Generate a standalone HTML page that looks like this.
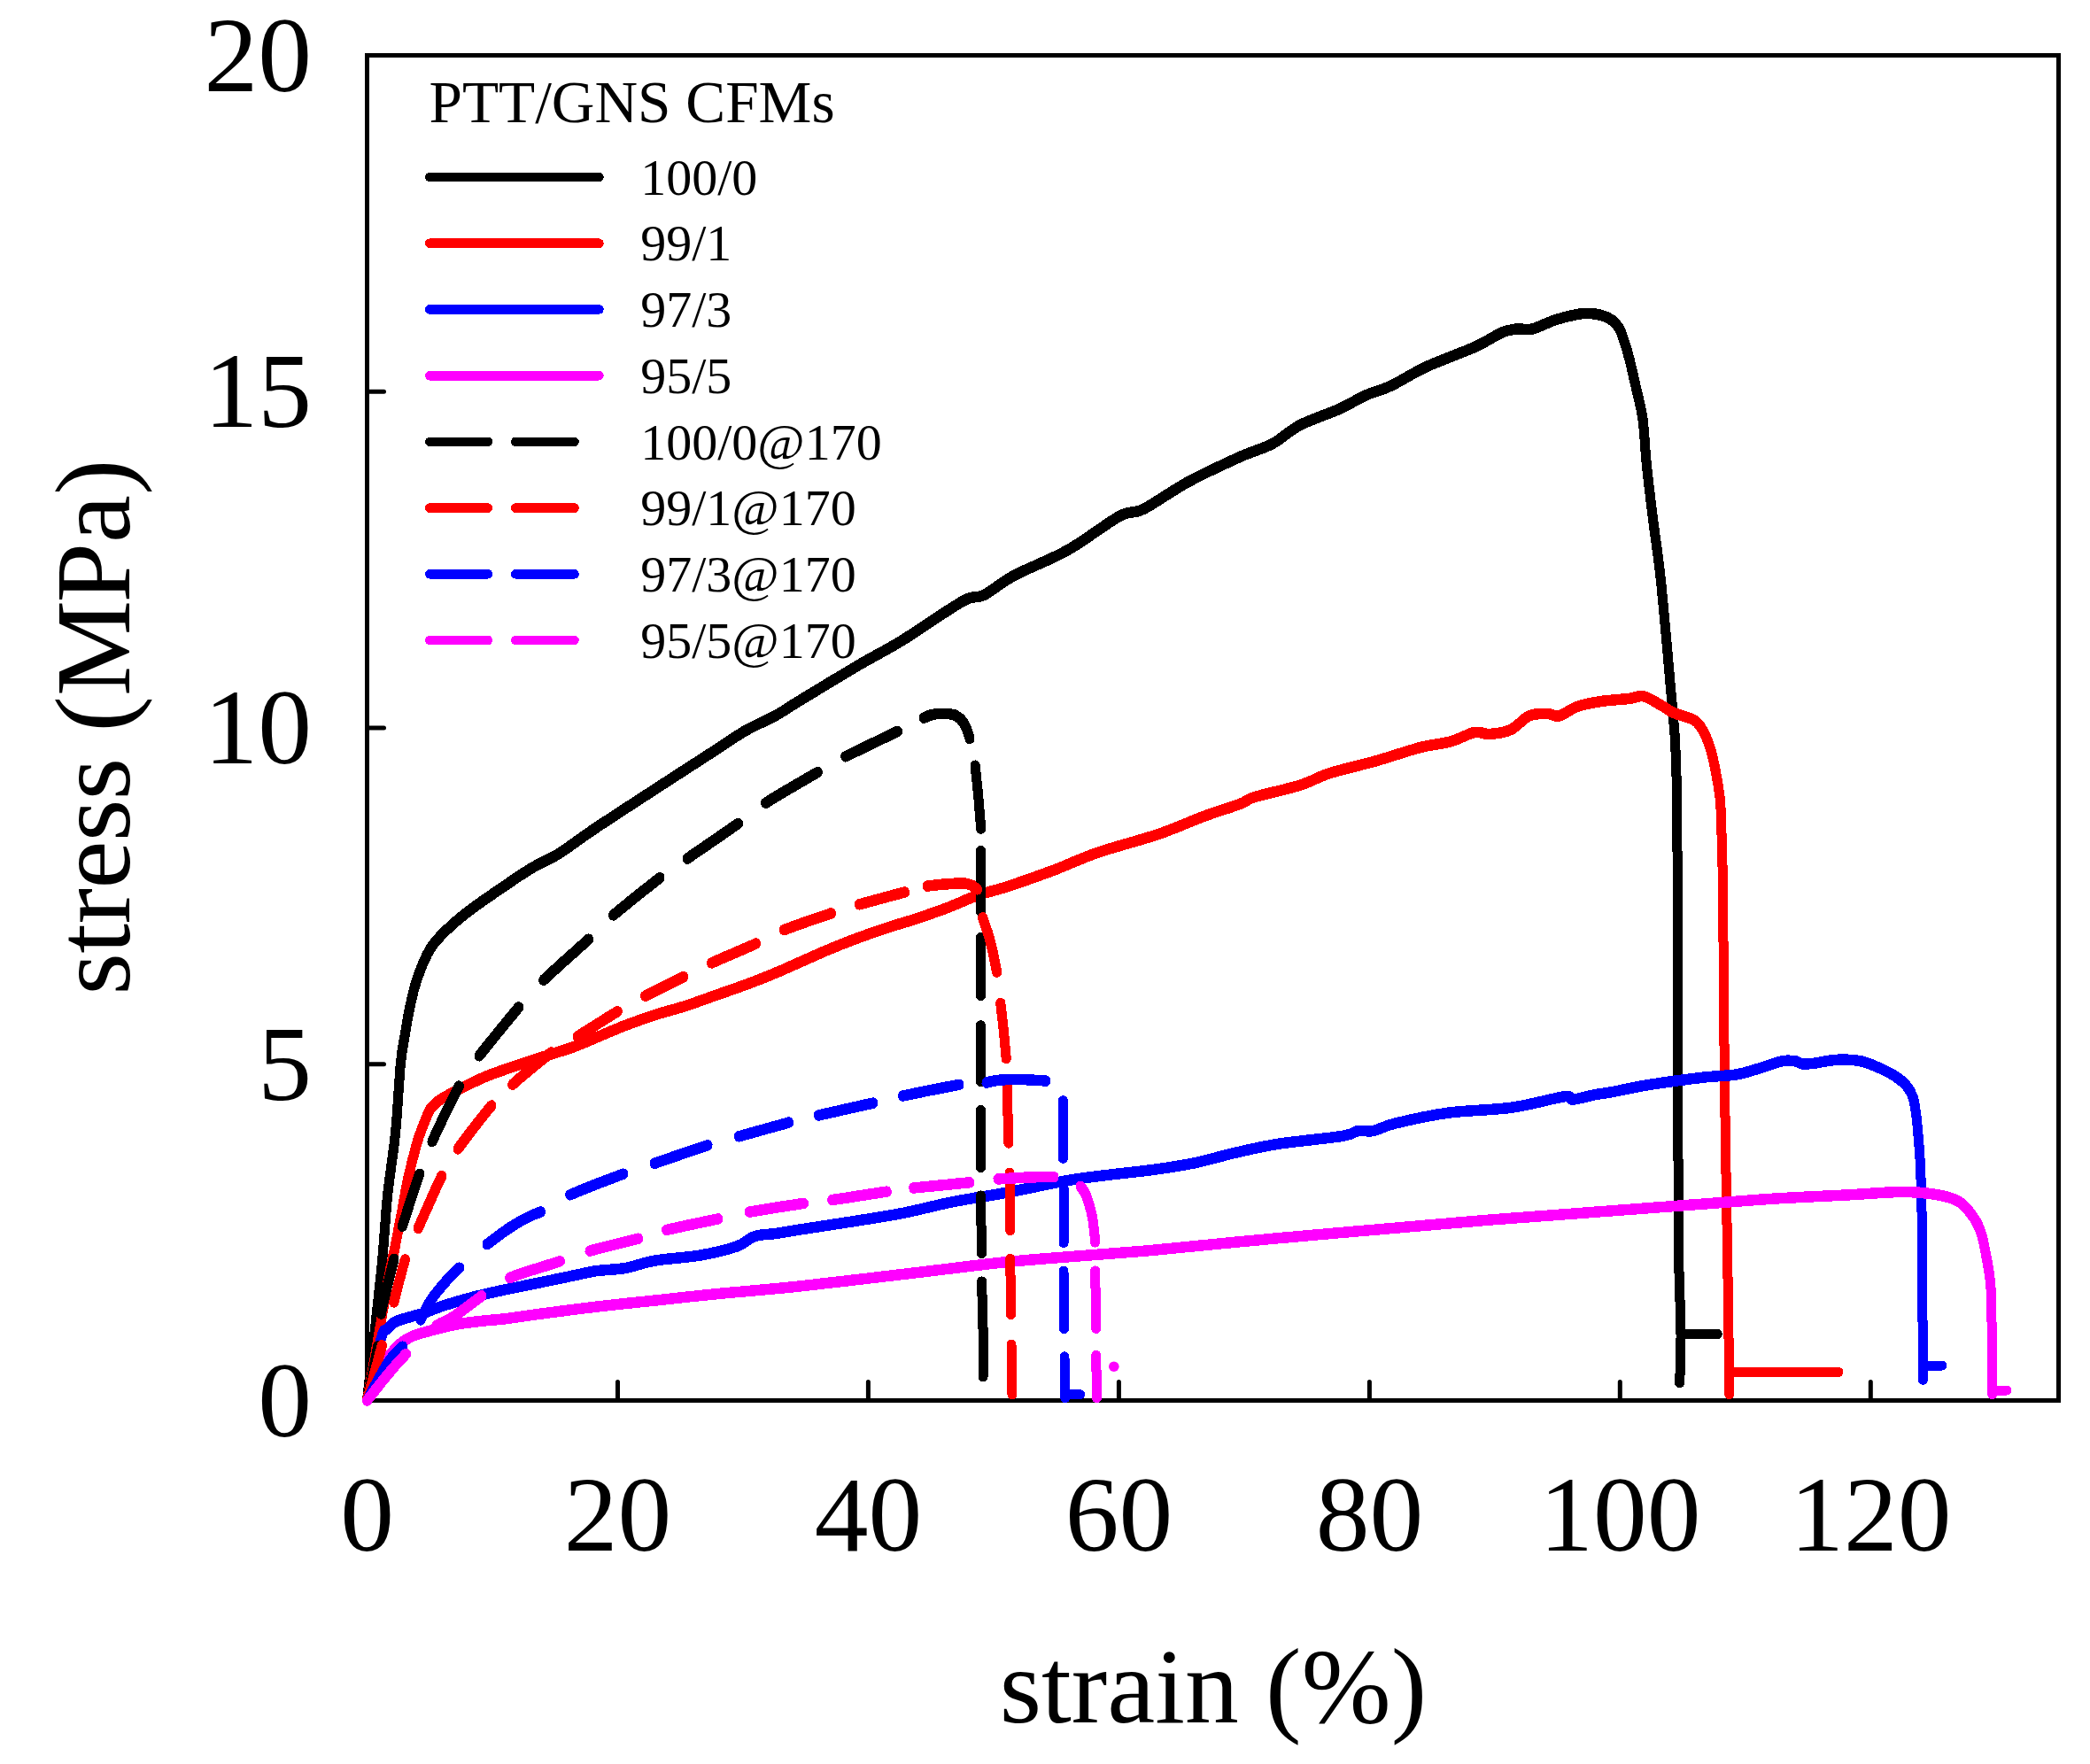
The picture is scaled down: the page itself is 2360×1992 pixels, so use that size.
<!DOCTYPE html>
<html lang="en"><head><meta charset="utf-8"><title>stress-strain curves of PTT/GNS CFMs</title>
<style>
html,body{margin:0;padding:0;background:#fff;}
body{width:2360px;height:1992px;overflow:hidden;}
svg{display:block;}
text{font-family:"Liberation Serif", serif;fill:#000;}
.tk{font-size:121.5px;}
.ax{font-size:121.5px;}
.lt{font-size:67.3px;}
.ll{font-size:58px;}
.c{fill:none;stroke-width:11;stroke-linecap:round;stroke-linejoin:round;shape-rendering:crispEdges;}
.k{stroke:#000;}.r{stroke:#f00;}.b{stroke:#00f;}.m{stroke:#f0f;}
.lg{stroke-width:10.6;}
</style></head><body>
<svg width="2360" height="1992" viewBox="0 0 2360 1992" role="img" aria-label="stress-strain curves">
<rect x="0" y="0" width="2360" height="1992" fill="#fff"/>
<g id="axes" fill="none" stroke="#000" stroke-width="5">
<rect x="414.5" y="62.5" width="1910" height="1519"/>
<path d="M697.5 1581.5V1560.5M980.4 1581.5V1560.5M1263.4 1581.5V1560.5M1546.4 1581.5V1560.5M1829.3 1581.5V1560.5M2112.3 1581.5V1560.5M414.5 1201.8H433.5M414.5 822H433.5M414.5 442.2H433.5" stroke-linecap="round"/>
</g>
<g id="curves">
<path class="c k" transform="translate(0 -0.75)" d="M414.5 1581.5C417.2 1557.1 426.6 1473.6 430.5 1435C434.4 1396.4 434.9 1375.8 437.6 1350C440.3 1324.2 444 1304.8 446.5 1280C449 1255.2 450.6 1219.5 452.4 1201C454.2 1182.5 455.6 1178.7 457.2 1168.8C458.8 1158.9 460.2 1150.4 462 1141.6C463.8 1132.8 465.7 1123.7 467.8 1116C469.9 1108.3 472.1 1102.1 474.6 1095.6C477.1 1089.1 480.1 1082.1 482.7 1077C485.3 1071.9 487.3 1069 490.4 1065C493.5 1061 497.3 1057.1 501.4 1053C505.5 1048.9 509.9 1044.8 515 1040.4C520.1 1036 523.5 1033 532 1026.8C540.5 1020.6 554.7 1010.7 566 1003C577.3 995.3 589.2 987 600 980.5C610.8 974 619 971.5 631 964C643 956.5 653.8 947.7 672 935.5C690.2 923.3 717.3 905.8 740 891C762.7 876.2 791 858 808 847C825 836 830.7 831.5 842 825C853.3 818.5 866.3 813.3 876 808C885.7 802.7 884.7 802.3 900 793C915.3 783.7 948.2 763.7 968 752C987.8 740.3 999.2 735.2 1019 723C1038.8 710.8 1071.7 687.5 1087 679C1102.3 670.5 1101.3 676.8 1111 672C1120.7 667.2 1129.2 658.5 1145 650C1160.8 641.5 1186.2 632.2 1206 621C1225.8 609.8 1249.8 590.7 1264 583C1278.2 575.3 1278 581.5 1291 575C1304 568.5 1323.8 553.8 1342 544C1360.2 534.2 1384.2 523.2 1400 516C1415.8 508.8 1425.7 507 1437 501C1448.3 495 1455.5 486.5 1468 480C1480.5 473.5 1499.5 467.7 1512 462C1524.5 456.3 1533.3 450.3 1543 446C1552.7 441.7 1558.7 441.3 1570 436C1581.3 430.7 1595.2 421.3 1611 414C1626.8 406.7 1650.8 398.4 1665 392C1679.2 385.6 1688 378.9 1696 375.5C1704 372.1 1707.3 372.2 1713 371.5C1718.7 370.8 1722.7 373.2 1730 371.5C1737.3 369.8 1748 363.8 1757 361C1766 358.2 1776.7 355.6 1784 354.5C1791.3 353.4 1795.8 353.8 1801 354.5C1806.2 355.2 1811 356.6 1815 358.5C1819 360.4 1822.3 363 1825 366C1827.7 369 1828.7 370.5 1831 376.5C1833.3 382.5 1836.3 392.1 1839 402C1841.7 411.9 1844.3 424.1 1847 436C1849.7 447.9 1853 459.3 1855 473.5C1857 487.7 1857.2 502.9 1859 521C1860.8 539.1 1863.4 561 1866 582C1868.6 603 1872 624.8 1874.5 647C1877 669.2 1878.9 692.3 1881 715C1883.1 737.7 1885.2 762.7 1887 783C1888.8 803.3 1890.4 817.5 1891.5 837C1892.6 856.5 1893 865.7 1893.5 900C1894 934.3 1894.5 985.2 1894.7 1043C1894.9 1100.8 1894.6 1185.8 1894.7 1247C1894.8 1308.2 1895 1366.8 1895.5 1410C1896 1453.2 1897.8 1480.8 1898 1506C1898.2 1531.2 1896.9 1551.8 1896.7 1561"/>
<path class="c k" transform="translate(0 0.75)" d="M414.5 1581.5C417.2 1557.1 426.6 1473.6 430.5 1435C434.4 1396.4 434.9 1375.8 437.6 1350C440.3 1324.2 444 1304.8 446.5 1280C449 1255.2 450.6 1219.5 452.4 1201C454.2 1182.5 455.6 1178.7 457.2 1168.8C458.8 1158.9 460.2 1150.4 462 1141.6C463.8 1132.8 465.7 1123.7 467.8 1116C469.9 1108.3 472.1 1102.1 474.6 1095.6C477.1 1089.1 480.1 1082.1 482.7 1077C485.3 1071.9 487.3 1069 490.4 1065C493.5 1061 497.3 1057.1 501.4 1053C505.5 1048.9 509.9 1044.8 515 1040.4C520.1 1036 523.5 1033 532 1026.8C540.5 1020.6 554.7 1010.7 566 1003C577.3 995.3 589.2 987 600 980.5C610.8 974 619 971.5 631 964C643 956.5 653.8 947.7 672 935.5C690.2 923.3 717.3 905.8 740 891C762.7 876.2 791 858 808 847C825 836 830.7 831.5 842 825C853.3 818.5 866.3 813.3 876 808C885.7 802.7 884.7 802.3 900 793C915.3 783.7 948.2 763.7 968 752C987.8 740.3 999.2 735.2 1019 723C1038.8 710.8 1071.7 687.5 1087 679C1102.3 670.5 1101.3 676.8 1111 672C1120.7 667.2 1129.2 658.5 1145 650C1160.8 641.5 1186.2 632.2 1206 621C1225.8 609.8 1249.8 590.7 1264 583C1278.2 575.3 1278 581.5 1291 575C1304 568.5 1323.8 553.8 1342 544C1360.2 534.2 1384.2 523.2 1400 516C1415.8 508.8 1425.7 507 1437 501C1448.3 495 1455.5 486.5 1468 480C1480.5 473.5 1499.5 467.7 1512 462C1524.5 456.3 1533.3 450.3 1543 446C1552.7 441.7 1558.7 441.3 1570 436C1581.3 430.7 1595.2 421.3 1611 414C1626.8 406.7 1650.8 398.4 1665 392C1679.2 385.6 1688 378.9 1696 375.5C1704 372.1 1707.3 372.2 1713 371.5C1718.7 370.8 1722.7 373.2 1730 371.5C1737.3 369.8 1748 363.8 1757 361C1766 358.2 1776.7 355.6 1784 354.5C1791.3 353.4 1795.8 353.8 1801 354.5C1806.2 355.2 1811 356.6 1815 358.5C1819 360.4 1822.3 363 1825 366C1827.7 369 1828.7 370.5 1831 376.5C1833.3 382.5 1836.3 392.1 1839 402C1841.7 411.9 1844.3 424.1 1847 436C1849.7 447.9 1853 459.3 1855 473.5C1857 487.7 1857.2 502.9 1859 521C1860.8 539.1 1863.4 561 1866 582C1868.6 603 1872 624.8 1874.5 647C1877 669.2 1878.9 692.3 1881 715C1883.1 737.7 1885.2 762.7 1887 783C1888.8 803.3 1890.4 817.5 1891.5 837C1892.6 856.5 1893 865.7 1893.5 900C1894 934.3 1894.5 985.2 1894.7 1043C1894.9 1100.8 1894.6 1185.8 1894.7 1247C1894.8 1308.2 1895 1366.8 1895.5 1410C1896 1453.2 1897.8 1480.8 1898 1506C1898.2 1531.2 1896.9 1551.8 1896.7 1561"/>
<path class="c k" d="M1901 1506.5L1939.3 1506.5"/>
<path class="c r" transform="translate(0 -0.75)" d="M414.5 1581.5C416.3 1571.2 421.4 1543.2 425.5 1520C429.6 1496.8 435.6 1460.3 439 1442C442.4 1423.7 443.4 1421.5 445.7 1410C448 1398.5 450.4 1385.9 452.9 1372.9C455.4 1359.9 457.5 1345.6 460.5 1332C463.5 1318.4 467.8 1301.4 470.7 1291.2C473.6 1281 475.3 1277.3 477.9 1270.8C480.4 1264.3 482.9 1257.2 486 1252.4C489.1 1247.6 492.4 1245.4 496.7 1242.2C501 1239 507.2 1236.1 512 1233.5C516.8 1230.9 519 1229.6 525.2 1226.6C531.4 1223.6 540.8 1218.9 549 1215.5C557.2 1212.1 566.1 1209.2 574.6 1206.2C583.1 1203.2 591.5 1200.5 600 1197.7C608.5 1194.9 617.1 1192.3 625.6 1189.5C634.1 1186.7 641.9 1184.5 651 1181C660.1 1177.5 670.8 1172.6 680 1168.8C689.2 1165 696 1161.8 706 1158C716 1154.2 728.7 1149.7 740 1146C751.3 1142.3 762.7 1139.7 774 1136C785.3 1132.3 796.7 1128 808 1124C819.3 1120 830.7 1116.2 842 1112C853.3 1107.8 866.3 1102.6 876 1098.6C885.7 1094.6 890.3 1092.3 900 1088C909.7 1083.7 922.7 1077.8 934 1073C945.3 1068.2 956.7 1063.7 968 1059.5C979.3 1055.3 990.7 1051.3 1002 1047.6C1013.3 1043.8 1024.7 1040.8 1036 1037C1047.3 1033.2 1058.7 1029.3 1070 1025C1081.3 1020.7 1092.7 1015 1104 1011C1115.3 1007 1123.8 1005.7 1138 1001C1152.2 996.3 1172 989.4 1189 983C1206 976.6 1220.2 969.4 1240 962.6C1259.8 955.8 1288.2 948.8 1308 942C1327.8 935.2 1343.7 927.7 1359 922C1374.3 916.3 1390.3 911.7 1400 908C1409.7 904.3 1405.7 903.5 1417 900C1428.3 896.5 1453.8 891.2 1468 886.7C1482.2 882.2 1487.8 877.5 1502 873C1516.2 868.5 1536 864.3 1553 859.5C1570 854.7 1589.8 847.7 1604 844C1618.2 840.3 1627.8 840.2 1638 837.4C1648.2 834.6 1657.7 828.4 1665 827C1672.3 825.6 1675.2 829.5 1682 829C1688.8 828.5 1698.6 827.4 1706 824C1713.4 820.6 1719.7 811.5 1726.5 808.5C1733.3 805.5 1741.3 806 1747 806C1752.7 806 1754.8 809.8 1760.5 808.5C1766.2 807.2 1773.1 800.8 1781 798C1788.9 795.2 1798.3 793.5 1808 792C1817.7 790.5 1831 789.9 1839 789C1847 788.1 1849.8 785.1 1856 786.4C1862.2 787.7 1870.3 793.5 1876 796.6C1881.7 799.7 1883.7 802.2 1890 805C1896.3 807.8 1907.9 809.9 1913.6 813.6C1919.3 817.3 1920.9 821.3 1924 827C1927.1 832.7 1929.8 840.2 1932 847.6C1934.2 855 1935.7 862.7 1937.4 871.4C1939.1 880.1 1941 891.7 1942 900C1943 908.3 1942.7 904 1943.3 921C1943.9 938 1945 968 1945.5 1002C1946 1036 1946.1 1084.2 1946.5 1125C1946.9 1165.8 1947.2 1206.2 1947.8 1247C1948.3 1287.8 1949.1 1329.2 1949.8 1370C1950.5 1410.8 1951.3 1458 1951.8 1492C1952.3 1526 1952.5 1560.3 1952.7 1574"/>
<path class="c r" transform="translate(0 0.75)" d="M414.5 1581.5C416.3 1571.2 421.4 1543.2 425.5 1520C429.6 1496.8 435.6 1460.3 439 1442C442.4 1423.7 443.4 1421.5 445.7 1410C448 1398.5 450.4 1385.9 452.9 1372.9C455.4 1359.9 457.5 1345.6 460.5 1332C463.5 1318.4 467.8 1301.4 470.7 1291.2C473.6 1281 475.3 1277.3 477.9 1270.8C480.4 1264.3 482.9 1257.2 486 1252.4C489.1 1247.6 492.4 1245.4 496.7 1242.2C501 1239 507.2 1236.1 512 1233.5C516.8 1230.9 519 1229.6 525.2 1226.6C531.4 1223.6 540.8 1218.9 549 1215.5C557.2 1212.1 566.1 1209.2 574.6 1206.2C583.1 1203.2 591.5 1200.5 600 1197.7C608.5 1194.9 617.1 1192.3 625.6 1189.5C634.1 1186.7 641.9 1184.5 651 1181C660.1 1177.5 670.8 1172.6 680 1168.8C689.2 1165 696 1161.8 706 1158C716 1154.2 728.7 1149.7 740 1146C751.3 1142.3 762.7 1139.7 774 1136C785.3 1132.3 796.7 1128 808 1124C819.3 1120 830.7 1116.2 842 1112C853.3 1107.8 866.3 1102.6 876 1098.6C885.7 1094.6 890.3 1092.3 900 1088C909.7 1083.7 922.7 1077.8 934 1073C945.3 1068.2 956.7 1063.7 968 1059.5C979.3 1055.3 990.7 1051.3 1002 1047.6C1013.3 1043.8 1024.7 1040.8 1036 1037C1047.3 1033.2 1058.7 1029.3 1070 1025C1081.3 1020.7 1092.7 1015 1104 1011C1115.3 1007 1123.8 1005.7 1138 1001C1152.2 996.3 1172 989.4 1189 983C1206 976.6 1220.2 969.4 1240 962.6C1259.8 955.8 1288.2 948.8 1308 942C1327.8 935.2 1343.7 927.7 1359 922C1374.3 916.3 1390.3 911.7 1400 908C1409.7 904.3 1405.7 903.5 1417 900C1428.3 896.5 1453.8 891.2 1468 886.7C1482.2 882.2 1487.8 877.5 1502 873C1516.2 868.5 1536 864.3 1553 859.5C1570 854.7 1589.8 847.7 1604 844C1618.2 840.3 1627.8 840.2 1638 837.4C1648.2 834.6 1657.7 828.4 1665 827C1672.3 825.6 1675.2 829.5 1682 829C1688.8 828.5 1698.6 827.4 1706 824C1713.4 820.6 1719.7 811.5 1726.5 808.5C1733.3 805.5 1741.3 806 1747 806C1752.7 806 1754.8 809.8 1760.5 808.5C1766.2 807.2 1773.1 800.8 1781 798C1788.9 795.2 1798.3 793.5 1808 792C1817.7 790.5 1831 789.9 1839 789C1847 788.1 1849.8 785.1 1856 786.4C1862.2 787.7 1870.3 793.5 1876 796.6C1881.7 799.7 1883.7 802.2 1890 805C1896.3 807.8 1907.9 809.9 1913.6 813.6C1919.3 817.3 1920.9 821.3 1924 827C1927.1 832.7 1929.8 840.2 1932 847.6C1934.2 855 1935.7 862.7 1937.4 871.4C1939.1 880.1 1941 891.7 1942 900C1943 908.3 1942.7 904 1943.3 921C1943.9 938 1945 968 1945.5 1002C1946 1036 1946.1 1084.2 1946.5 1125C1946.9 1165.8 1947.2 1206.2 1947.8 1247C1948.3 1287.8 1949.1 1329.2 1949.8 1370C1950.5 1410.8 1951.3 1458 1951.8 1492C1952.3 1526 1952.5 1560.3 1952.7 1574"/>
<path class="c r" d="M1956 1549.4L2076 1549.4"/>
<path class="c b" transform="translate(0 -0.75)" d="M414.5 1581.5C417.2 1569.8 426.8 1524.4 430.5 1511C434.2 1497.6 434.2 1504.1 436.9 1501C439.6 1497.9 442.3 1494.8 446.8 1492.5C451.3 1490.2 458.4 1488.7 463.8 1487C469.2 1485.3 473.5 1484.5 479.4 1482.5C485.3 1480.5 491.2 1477.7 499.2 1475C507.2 1472.3 518.1 1469.1 527.6 1466.5C537.1 1463.9 546 1461.8 555.9 1459.5C565.8 1457.2 573.3 1455.8 587 1453C600.7 1450.2 623.8 1445.4 638 1442.5C652.2 1439.6 660.7 1437.2 672 1435.4C683.3 1433.7 694.7 1434 706 1432C717.3 1430 725.8 1425.9 740 1423.5C754.2 1421.1 775.7 1420.2 791 1417.5C806.3 1414.8 821.8 1411.1 832 1407.5C842.2 1403.9 845.1 1398.4 852.4 1396C859.7 1393.6 868.1 1394.2 876 1393C883.9 1391.8 884.7 1391.4 900 1389C915.3 1386.6 948.2 1381.7 968 1378.5C987.8 1375.3 1000.8 1373.6 1019 1370C1037.2 1366.4 1057.2 1360.9 1077 1357C1096.8 1353.1 1116.5 1350.5 1138 1346.5C1159.5 1342.5 1186.7 1336.3 1206 1333C1225.3 1329.7 1238.3 1328.5 1254 1326.5C1269.7 1324.5 1284.3 1323.4 1300 1321.2C1315.7 1319 1332 1316.8 1348 1313.5C1364 1310.2 1380.1 1305.1 1396 1301.5C1411.9 1297.9 1423.7 1294.9 1443.5 1291.8C1463.3 1288.7 1499.9 1285.5 1515 1283C1530.1 1280.5 1528 1278 1534 1277C1540 1276 1544.2 1278.4 1551 1277C1557.8 1275.6 1561 1272.1 1575 1268.7C1589 1265.3 1613 1259.7 1635 1256.7C1657 1253.7 1685.1 1253.8 1707 1250.7C1728.9 1247.6 1755 1239.8 1766.5 1238.3C1778 1236.8 1770.4 1241.9 1776 1241.6C1781.6 1241.3 1792.5 1237.8 1800 1236.4C1807.5 1235 1810.7 1234.9 1821 1233C1831.3 1231.1 1845 1227.7 1862 1225C1879 1222.3 1906.7 1218.6 1923 1216.7C1939.3 1214.8 1949.6 1215.2 1960 1213.5C1970.4 1211.8 1977.8 1209 1985.5 1206.8C1993.2 1204.5 2000.8 1201.5 2005.9 1200C2011 1198.5 2012.4 1198 2016.1 1197.8C2019.8 1197.5 2024.9 1197.9 2028 1198.5C2031.1 1199.1 2031.4 1200.9 2034.8 1201.3C2038.2 1201.7 2043.9 1201.3 2048.4 1200.8C2052.9 1200.3 2056.9 1199 2062 1198.3C2067.1 1197.6 2072.5 1196.6 2079 1196.6C2085.5 1196.6 2094.4 1196.9 2101.2 1198.3C2108 1199.7 2113.7 1202.3 2119.9 1205C2126.1 1207.7 2133.2 1211 2138.6 1214.4C2144 1217.8 2148.7 1221.5 2152.2 1225.5C2155.7 1229.5 2158 1233.2 2159.8 1238.2C2161.6 1243.2 2162.2 1248.4 2163.2 1255.2C2164.2 1262 2165 1269.4 2165.8 1279C2166.7 1288.6 2167.7 1301.7 2168.3 1313C2168.9 1324.3 2169.1 1332.8 2169.5 1347C2169.9 1361.2 2170.2 1373.8 2170.5 1398C2170.8 1422.2 2170.9 1465.4 2171 1492C2171.1 1518.6 2171.2 1546.7 2171.3 1557.6"/>
<path class="c b" transform="translate(0 0.75)" d="M414.5 1581.5C417.2 1569.8 426.8 1524.4 430.5 1511C434.2 1497.6 434.2 1504.1 436.9 1501C439.6 1497.9 442.3 1494.8 446.8 1492.5C451.3 1490.2 458.4 1488.7 463.8 1487C469.2 1485.3 473.5 1484.5 479.4 1482.5C485.3 1480.5 491.2 1477.7 499.2 1475C507.2 1472.3 518.1 1469.1 527.6 1466.5C537.1 1463.9 546 1461.8 555.9 1459.5C565.8 1457.2 573.3 1455.8 587 1453C600.7 1450.2 623.8 1445.4 638 1442.5C652.2 1439.6 660.7 1437.2 672 1435.4C683.3 1433.7 694.7 1434 706 1432C717.3 1430 725.8 1425.9 740 1423.5C754.2 1421.1 775.7 1420.2 791 1417.5C806.3 1414.8 821.8 1411.1 832 1407.5C842.2 1403.9 845.1 1398.4 852.4 1396C859.7 1393.6 868.1 1394.2 876 1393C883.9 1391.8 884.7 1391.4 900 1389C915.3 1386.6 948.2 1381.7 968 1378.5C987.8 1375.3 1000.8 1373.6 1019 1370C1037.2 1366.4 1057.2 1360.9 1077 1357C1096.8 1353.1 1116.5 1350.5 1138 1346.5C1159.5 1342.5 1186.7 1336.3 1206 1333C1225.3 1329.7 1238.3 1328.5 1254 1326.5C1269.7 1324.5 1284.3 1323.4 1300 1321.2C1315.7 1319 1332 1316.8 1348 1313.5C1364 1310.2 1380.1 1305.1 1396 1301.5C1411.9 1297.9 1423.7 1294.9 1443.5 1291.8C1463.3 1288.7 1499.9 1285.5 1515 1283C1530.1 1280.5 1528 1278 1534 1277C1540 1276 1544.2 1278.4 1551 1277C1557.8 1275.6 1561 1272.1 1575 1268.7C1589 1265.3 1613 1259.7 1635 1256.7C1657 1253.7 1685.1 1253.8 1707 1250.7C1728.9 1247.6 1755 1239.8 1766.5 1238.3C1778 1236.8 1770.4 1241.9 1776 1241.6C1781.6 1241.3 1792.5 1237.8 1800 1236.4C1807.5 1235 1810.7 1234.9 1821 1233C1831.3 1231.1 1845 1227.7 1862 1225C1879 1222.3 1906.7 1218.6 1923 1216.7C1939.3 1214.8 1949.6 1215.2 1960 1213.5C1970.4 1211.8 1977.8 1209 1985.5 1206.8C1993.2 1204.5 2000.8 1201.5 2005.9 1200C2011 1198.5 2012.4 1198 2016.1 1197.8C2019.8 1197.5 2024.9 1197.9 2028 1198.5C2031.1 1199.1 2031.4 1200.9 2034.8 1201.3C2038.2 1201.7 2043.9 1201.3 2048.4 1200.8C2052.9 1200.3 2056.9 1199 2062 1198.3C2067.1 1197.6 2072.5 1196.6 2079 1196.6C2085.5 1196.6 2094.4 1196.9 2101.2 1198.3C2108 1199.7 2113.7 1202.3 2119.9 1205C2126.1 1207.7 2133.2 1211 2138.6 1214.4C2144 1217.8 2148.7 1221.5 2152.2 1225.5C2155.7 1229.5 2158 1233.2 2159.8 1238.2C2161.6 1243.2 2162.2 1248.4 2163.2 1255.2C2164.2 1262 2165 1269.4 2165.8 1279C2166.7 1288.6 2167.7 1301.7 2168.3 1313C2168.9 1324.3 2169.1 1332.8 2169.5 1347C2169.9 1361.2 2170.2 1373.8 2170.5 1398C2170.8 1422.2 2170.9 1465.4 2171 1492C2171.1 1518.6 2171.2 1546.7 2171.3 1557.6"/>
<path class="c b" d="M2173.5 1542L2192.7 1542"/>
<path class="c m" transform="translate(0 -0.75)" d="M414.5 1581.5C415.6 1578 417.8 1568.1 421.3 1560.5C424.8 1552.9 431.4 1542.1 435.4 1536C439.4 1529.9 442.6 1527.2 445.4 1524C448.2 1520.8 448.9 1519.6 452.4 1517C455.9 1514.4 461.2 1510.8 466.6 1508.5C472 1506.2 477.2 1505.1 485 1503C492.8 1500.9 503.9 1497.8 513.4 1496C522.9 1494.2 532.3 1493.1 541.7 1492C551.1 1490.9 559.6 1490.5 570 1489.3C580.4 1488 587 1486.8 604 1484.5C621 1482.2 649.3 1478.5 672 1475.8C694.7 1473.1 717.3 1470.9 740 1468.5C762.7 1466.1 781.3 1463.9 808 1461.3C834.7 1458.7 862 1456.8 900 1452.8C938 1448.8 996.3 1441.6 1036 1437C1075.7 1432.4 1104 1428.4 1138 1425C1172 1421.6 1213 1418.9 1240 1416.7C1267 1414.5 1274 1414.3 1300 1412C1326 1409.7 1364.2 1405.6 1396 1402.6C1427.8 1399.6 1459.2 1396.8 1491 1394C1522.8 1391.2 1555 1388.5 1587 1385.7C1619 1383 1654.2 1379.8 1683 1377.5C1711.8 1375.2 1733.6 1373.8 1760 1371.8C1786.4 1369.8 1814.4 1367.7 1841.6 1365.7C1868.8 1363.7 1895.8 1361.6 1923 1359.6C1950.2 1357.6 1977.8 1355.2 2005 1353.5C2032.2 1351.8 2062.7 1350.7 2086.5 1349.4C2110.3 1348.2 2131 1346 2148 1346C2165 1346 2177.8 1347.5 2188.6 1349.4C2199.4 1351.3 2206.2 1353.2 2213 1357.6C2219.8 1362 2225.3 1369.9 2229.4 1376C2233.5 1382.1 2235.2 1386.5 2237.6 1394.3C2240 1402.1 2242 1413.5 2243.7 1423C2245.4 1432.5 2246.9 1439.9 2247.8 1451.4C2248.7 1462.9 2248.7 1471.6 2249 1492C2249.3 1512.4 2249.7 1560.3 2249.8 1574"/>
<path class="c m" transform="translate(0 0.75)" d="M414.5 1581.5C415.6 1578 417.8 1568.1 421.3 1560.5C424.8 1552.9 431.4 1542.1 435.4 1536C439.4 1529.9 442.6 1527.2 445.4 1524C448.2 1520.8 448.9 1519.6 452.4 1517C455.9 1514.4 461.2 1510.8 466.6 1508.5C472 1506.2 477.2 1505.1 485 1503C492.8 1500.9 503.9 1497.8 513.4 1496C522.9 1494.2 532.3 1493.1 541.7 1492C551.1 1490.9 559.6 1490.5 570 1489.3C580.4 1488 587 1486.8 604 1484.5C621 1482.2 649.3 1478.5 672 1475.8C694.7 1473.1 717.3 1470.9 740 1468.5C762.7 1466.1 781.3 1463.9 808 1461.3C834.7 1458.7 862 1456.8 900 1452.8C938 1448.8 996.3 1441.6 1036 1437C1075.7 1432.4 1104 1428.4 1138 1425C1172 1421.6 1213 1418.9 1240 1416.7C1267 1414.5 1274 1414.3 1300 1412C1326 1409.7 1364.2 1405.6 1396 1402.6C1427.8 1399.6 1459.2 1396.8 1491 1394C1522.8 1391.2 1555 1388.5 1587 1385.7C1619 1383 1654.2 1379.8 1683 1377.5C1711.8 1375.2 1733.6 1373.8 1760 1371.8C1786.4 1369.8 1814.4 1367.7 1841.6 1365.7C1868.8 1363.7 1895.8 1361.6 1923 1359.6C1950.2 1357.6 1977.8 1355.2 2005 1353.5C2032.2 1351.8 2062.7 1350.7 2086.5 1349.4C2110.3 1348.2 2131 1346 2148 1346C2165 1346 2177.8 1347.5 2188.6 1349.4C2199.4 1351.3 2206.2 1353.2 2213 1357.6C2219.8 1362 2225.3 1369.9 2229.4 1376C2233.5 1382.1 2235.2 1386.5 2237.6 1394.3C2240 1402.1 2242 1413.5 2243.7 1423C2245.4 1432.5 2246.9 1439.9 2247.8 1451.4C2248.7 1462.9 2248.7 1471.6 2249 1492C2249.3 1512.4 2249.7 1560.3 2249.8 1574"/>
<path class="c m" d="M2249.8 1570L2266 1570"/>
<path class="c k" transform="translate(0 -0.75)" d="M414.5 1581.5L416 1574.2L417.5 1566.7L419.3 1557.9L421.2 1548.6L423.1 1539.2L424.8 1530.3L426.3 1522.4L426.6 1520.5M430.3 1483.5L431.7 1476.5L433.6 1468.1L435.8 1459L438 1449.6L440.3 1440.4L442.4 1431.7L444.3 1424L444.8 1421.9M454.4 1384.7L456.5 1377.9L459.1 1369.9L461.9 1361.2L464.8 1352.3L467.7 1343.5L470.5 1335.2L473 1327.7L473.7 1325.8M488 1288.9L491.4 1281.7L495.4 1273.2L499.7 1264L504.3 1254.6L508.8 1245.3L513.2 1236.6L517.2 1228.9L518.3 1226.7M541.2 1192.3L546.3 1185.8L552.3 1178.3L558.8 1170.3L563.2 1164.8L567.7 1159.3L574.3 1151.3L580.4 1143.9L585.7 1137.5M613.8 1106.7L619.7 1101.2L626.6 1094.9L634.1 1088.1L641.8 1081.2L649.4 1074.4L656.5 1068L662.8 1062.3L664.6 1060.7M692.7 1033.4L698.7 1028.4L705.7 1022.6L713.4 1016.3L721.4 1009.9L729.3 1003.7L736.7 997.9L743.2 992.7L745 991.3M776.1 969.6L782.6 965L790.4 959.7L798.9 953.9L804.7 949.9L810.5 945.9L819 940.1L826.7 934.7L833.4 930M864.7 906.7L871.4 902.5L879.4 897.7L888.1 892.5L897 887.3L905.9 882.1L914.1 877.3L921.4 873.1L923.3 872M954.9 854.3L961.6 851L969.6 847.1L978.3 842.8L987.3 838.5L996.1 834.3L1004.3 830.3L1011.6 826.8L1013.4 825.9M1043.3 810.6L1050 807.7L1057.1 806.2L1064.5 806L1071.7 806.1L1078.6 807.6L1084.5 811.6L1088.9 817.5L1092 824.1L1094.3 831.3L1095 833.9M1101.2 864.7L1104.8 900L1107.7 935.5M1107.5 961L1107.5 1029M1107.5 1059L1107.5 1124M1107.5 1158.5L1107.5 1221M1107.5 1254L1107.5 1318M1107.5 1350.6L1108.5 1414.7M1108.6 1447.6L1110 1500L1110 1554"/>
<path class="c k" transform="translate(0 0.75)" d="M414.5 1581.5L416 1574.2L417.5 1566.7L419.3 1557.9L421.2 1548.6L423.1 1539.2L424.8 1530.3L426.3 1522.4L426.6 1520.5M430.3 1483.5L431.7 1476.5L433.6 1468.1L435.8 1459L438 1449.6L440.3 1440.4L442.4 1431.7L444.3 1424L444.8 1421.9M454.4 1384.7L456.5 1377.9L459.1 1369.9L461.9 1361.2L464.8 1352.3L467.7 1343.5L470.5 1335.2L473 1327.7L473.7 1325.8M488 1288.9L491.4 1281.7L495.4 1273.2L499.7 1264L504.3 1254.6L508.8 1245.3L513.2 1236.6L517.2 1228.9L518.3 1226.7M541.2 1192.3L546.3 1185.8L552.3 1178.3L558.8 1170.3L563.2 1164.8L567.7 1159.3L574.3 1151.3L580.4 1143.9L585.7 1137.5M613.8 1106.7L619.7 1101.2L626.6 1094.9L634.1 1088.1L641.8 1081.2L649.4 1074.4L656.5 1068L662.8 1062.3L664.6 1060.7M692.7 1033.4L698.7 1028.4L705.7 1022.6L713.4 1016.3L721.4 1009.9L729.3 1003.7L736.7 997.9L743.2 992.7L745 991.3M776.1 969.6L782.6 965L790.4 959.7L798.9 953.9L804.7 949.9L810.5 945.9L819 940.1L826.7 934.7L833.4 930M864.7 906.7L871.4 902.5L879.4 897.7L888.1 892.5L897 887.3L905.9 882.1L914.1 877.3L921.4 873.1L923.3 872M954.9 854.3L961.6 851L969.6 847.1L978.3 842.8L987.3 838.5L996.1 834.3L1004.3 830.3L1011.6 826.8L1013.4 825.9M1043.3 810.6L1050 807.7L1057.1 806.2L1064.5 806L1071.7 806.1L1078.6 807.6L1084.5 811.6L1088.9 817.5L1092 824.1L1094.3 831.3L1095 833.9M1101.2 864.7L1104.8 900L1107.7 935.5M1107.5 961L1107.5 1029M1107.5 1059L1107.5 1124M1107.5 1158.5L1107.5 1221M1107.5 1254L1107.5 1318M1107.5 1350.6L1108.5 1414.7M1108.6 1447.6L1110 1500L1110 1554"/>
<path class="c r" transform="translate(0 -0.75)" d="M414.5 1581.5L416.5 1574.2L418.5 1566.8L420.8 1558.2L423.3 1548.9L425.9 1539.4L428.4 1530.2L430.7 1521.9L431.3 1519.4M444.8 1470.4L447 1462L448.7 1455.1L450.5 1448L452.3 1441L454.1 1434.2L456.4 1425.8L457.4 1422.6M472.2 1386.9L475.2 1380.1L478.8 1372L482.7 1363.3L486.7 1354.3L490.6 1345.5L494.4 1337.2L497.8 1330L498.7 1328.1M517.1 1297.4L522.8 1289.6L528.1 1282.5L533.8 1275.1L539.6 1267.6L545.3 1260.4L550.6 1253.8L554.9 1248.5M578.8 1224.6L585.4 1218.8L591.6 1213.6L598.1 1208.1L604.9 1202.6L611.4 1197.2L617.5 1192.4L622.5 1188.5M652.1 1170.5L659.1 1166.1L665.5 1162.1L672.3 1157.8L679.1 1153.5L685.8 1149.3L692.1 1145.4L697.2 1142.3M728.7 1124.7L735.4 1121.3L743.7 1117.1L750.2 1113.9L756.8 1110.6L763.1 1107.5L770.7 1103.7L771.8 1103.1M803.7 1087.4L811.4 1083.9L818.5 1080.8L826.1 1077.6L833.7 1074.3L841.1 1071.1L848 1068.1L853.5 1065.6M885.3 1050.1L893.6 1047L901.1 1044.3L909.2 1041.4L917.3 1038.6L925.3 1035.9L932.6 1033.4L938.4 1031.4M970.4 1021.3L978.4 1019.1L985.8 1017.1L993.7 1014.9L1001.7 1012.8L1009.4 1010.7L1016.4 1008.9L1021.6 1007.5M1047.1 1000.6L1055.1 999.6L1062.8 998.8L1070 998.3L1077.6 997.7L1084.6 997.4L1091.7 997.8L1098.5 1000.3L1103.4 1004.4M1109.7 1036.4L1112 1043.6L1114.7 1051.1L1117 1058.3L1118.8 1065.4L1120.7 1073.4L1122.2 1080.2L1123.6 1087.1L1125.2 1095.4L1125.6 1097.5M1129.8 1133L1133.5 1165L1136.2 1195M1137.1 1226.5L1138.9 1290.5M1140 1325L1140.8 1389M1140.8 1422L1141.5 1484M1142 1519L1142.9 1574"/>
<path class="c r" transform="translate(0 0.75)" d="M414.5 1581.5L416.5 1574.2L418.5 1566.8L420.8 1558.2L423.3 1548.9L425.9 1539.4L428.4 1530.2L430.7 1521.9L431.3 1519.4M444.8 1470.4L447 1462L448.7 1455.1L450.5 1448L452.3 1441L454.1 1434.2L456.4 1425.8L457.4 1422.6M472.2 1386.9L475.2 1380.1L478.8 1372L482.7 1363.3L486.7 1354.3L490.6 1345.5L494.4 1337.2L497.8 1330L498.7 1328.1M517.1 1297.4L522.8 1289.6L528.1 1282.5L533.8 1275.1L539.6 1267.6L545.3 1260.4L550.6 1253.8L554.9 1248.5M578.8 1224.6L585.4 1218.8L591.6 1213.6L598.1 1208.1L604.9 1202.6L611.4 1197.2L617.5 1192.4L622.5 1188.5M652.1 1170.5L659.1 1166.1L665.5 1162.1L672.3 1157.8L679.1 1153.5L685.8 1149.3L692.1 1145.4L697.2 1142.3M728.7 1124.7L735.4 1121.3L743.7 1117.1L750.2 1113.9L756.8 1110.6L763.1 1107.5L770.7 1103.7L771.8 1103.1M803.7 1087.4L811.4 1083.9L818.5 1080.8L826.1 1077.6L833.7 1074.3L841.1 1071.1L848 1068.1L853.5 1065.6M885.3 1050.1L893.6 1047L901.1 1044.3L909.2 1041.4L917.3 1038.6L925.3 1035.9L932.6 1033.4L938.4 1031.4M970.4 1021.3L978.4 1019.1L985.8 1017.1L993.7 1014.9L1001.7 1012.8L1009.4 1010.7L1016.4 1008.9L1021.6 1007.5M1047.1 1000.6L1055.1 999.6L1062.8 998.8L1070 998.3L1077.6 997.7L1084.6 997.4L1091.7 997.8L1098.5 1000.3L1103.4 1004.4M1109.7 1036.4L1112 1043.6L1114.7 1051.1L1117 1058.3L1118.8 1065.4L1120.7 1073.4L1122.2 1080.2L1123.6 1087.1L1125.2 1095.4L1125.6 1097.5M1129.8 1133L1133.5 1165L1136.2 1195M1137.1 1226.5L1138.9 1290.5M1140 1325L1140.8 1389M1140.8 1422L1141.5 1484M1142 1519L1142.9 1574"/>
<path class="c b" transform="translate(0 -0.75)" d="M414.5 1581.5L418 1575L421.9 1567.5L425.3 1561.2L428.8 1554.8L432.2 1548.6L436.5 1541.4L440.8 1535L445.4 1529.7L451 1524.2L454.4 1520.6M475 1490.3L478.3 1483.8L481.3 1477.4L485 1470.5L489 1464.7L493.3 1459.1L498.1 1453.3L502.8 1447.8L507.9 1442.1L513.1 1436.8L518.4 1431.8L518.6 1431.6M550.1 1405.2L556.7 1400.1L563.1 1395.3L569.2 1390.9L575 1386.8L581.3 1382.8L587.8 1378.9L594.6 1375.4L601 1372.2L607.6 1369.7L610.4 1368.4M643.8 1349.3L650.6 1346.4L658.7 1343L667.6 1339.5L676.7 1335.9L685.7 1332.5L694.2 1329.3L701.7 1326.4L703.7 1325.7M739.1 1313.8L745.9 1311.4L754.1 1308.6L763 1305.5L772.1 1302.4L781.1 1299.3L789.6 1296.4L797.1 1293.9L799 1293.3M834.4 1283.3L843.3 1280.8L851.3 1278.6L859.7 1276.2L868.3 1273.8L876.6 1271.5L884.3 1269.4L890.6 1267.6M924.4 1259.4L931.3 1257.9L939.8 1256L948.9 1253.9L958.4 1251.8L967.7 1249.7L976.4 1247.7L984.1 1246L986 1245.6M1019.7 1237.5L1026.9 1236L1035.6 1234.2L1045 1232.2L1054.8 1230.3L1064.4 1228.4L1073.3 1226.7L1081.1 1225.2L1082.9 1224.9M1114 1222.5L1121.2 1220.8L1128.5 1219.7L1136 1219.2L1143.9 1219.1L1150.9 1219.1L1158 1219.2L1165.1 1219.5L1172.5 1220.2L1179.8 1220.3L1180.8 1220.7M1200.3 1243.5L1200.3 1307.5M1201 1342L1201 1402.8M1201 1435.7L1201.5 1499.7M1202 1532.6L1202.7 1578"/>
<path class="c b" transform="translate(0 0.75)" d="M414.5 1581.5L418 1575L421.9 1567.5L425.3 1561.2L428.8 1554.8L432.2 1548.6L436.5 1541.4L440.8 1535L445.4 1529.7L451 1524.2L454.4 1520.6M475 1490.3L478.3 1483.8L481.3 1477.4L485 1470.5L489 1464.7L493.3 1459.1L498.1 1453.3L502.8 1447.8L507.9 1442.1L513.1 1436.8L518.4 1431.8L518.6 1431.6M550.1 1405.2L556.7 1400.1L563.1 1395.3L569.2 1390.9L575 1386.8L581.3 1382.8L587.8 1378.9L594.6 1375.4L601 1372.2L607.6 1369.7L610.4 1368.4M643.8 1349.3L650.6 1346.4L658.7 1343L667.6 1339.5L676.7 1335.9L685.7 1332.5L694.2 1329.3L701.7 1326.4L703.7 1325.7M739.1 1313.8L745.9 1311.4L754.1 1308.6L763 1305.5L772.1 1302.4L781.1 1299.3L789.6 1296.4L797.1 1293.9L799 1293.3M834.4 1283.3L843.3 1280.8L851.3 1278.6L859.7 1276.2L868.3 1273.8L876.6 1271.5L884.3 1269.4L890.6 1267.6M924.4 1259.4L931.3 1257.9L939.8 1256L948.9 1253.9L958.4 1251.8L967.7 1249.7L976.4 1247.7L984.1 1246L986 1245.6M1019.7 1237.5L1026.9 1236L1035.6 1234.2L1045 1232.2L1054.8 1230.3L1064.4 1228.4L1073.3 1226.7L1081.1 1225.2L1082.9 1224.9M1114 1222.5L1121.2 1220.8L1128.5 1219.7L1136 1219.2L1143.9 1219.1L1150.9 1219.1L1158 1219.2L1165.1 1219.5L1172.5 1220.2L1179.8 1220.3L1180.8 1220.7M1200.3 1243.5L1200.3 1307.5M1201 1342L1201 1402.8M1201 1435.7L1201.5 1499.7M1202 1532.6L1202.7 1578"/>
<path class="c b" d="M1202.7 1574.8L1219.7 1574.8"/>
<path class="c m" transform="translate(0 -0.75)" d="M414.5 1581.5L419.7 1574.9L424.9 1568.3L429.4 1562.6L433.9 1557L438.9 1550.9L444.3 1544.5L449.5 1538.5L455.1 1532.5L458.4 1529M492.7 1497.3L498.8 1493.7L506 1490.5L513.2 1486.2L519.8 1481.5L525.6 1477.2L531.7 1472.6L537.7 1468.1L543.4 1463.9L544 1463.4M575.8 1442.9L584.6 1439.6L592.6 1436.9L601.1 1434.1L609.8 1431.4L618.2 1428.8L626 1426.3L632.3 1424.3M666 1412.6L674.5 1410.3L682.3 1408.3L690.6 1406.2L699 1404.2L707.1 1402.1L714.6 1400.2L720.6 1398.7M752.7 1388.9L761.7 1386.9L769.9 1385.1L778.6 1383.2L787.5 1381.3L796.2 1379.5L804.3 1377.8L810.9 1376.4M846.4 1368.6L853.3 1367.4L861.7 1366L870.9 1364.5L880.3 1363L889.5 1361.6L898.1 1360.3L905.7 1359.1L907.5 1358.9M939.9 1355L949.4 1353.6L958.1 1352.3L967.5 1350.8L977 1349.3L986.2 1347.9L994.6 1346.6L1001.2 1345.6M1031.8 1341.5L1041.4 1340.5L1050.3 1339.7L1059.9 1338.7L1069.7 1337.8L1079.2 1336.8L1087.8 1336L1094.8 1335.3M1127 1331.4L1136.7 1330.9L1145.7 1330.3L1155.3 1329.8L1165.1 1329.4L1174.5 1329.1L1183.2 1329L1190 1329.2M1220.1 1339.8L1224.4 1345.4L1227.1 1351.8L1229.6 1359L1231.6 1366.2L1233.3 1374L1234.5 1381.2L1235.4 1389.1L1236.2 1397.1L1236.5 1402.3M1236.7 1435.7L1237.8 1499.7M1237.8 1531L1238.4 1578"/>
<path class="c m" transform="translate(0 0.75)" d="M414.5 1581.5L419.7 1574.9L424.9 1568.3L429.4 1562.6L433.9 1557L438.9 1550.9L444.3 1544.5L449.5 1538.5L455.1 1532.5L458.4 1529M492.7 1497.3L498.8 1493.7L506 1490.5L513.2 1486.2L519.8 1481.5L525.6 1477.2L531.7 1472.6L537.7 1468.1L543.4 1463.9L544 1463.4M575.8 1442.9L584.6 1439.6L592.6 1436.9L601.1 1434.1L609.8 1431.4L618.2 1428.8L626 1426.3L632.3 1424.3M666 1412.6L674.5 1410.3L682.3 1408.3L690.6 1406.2L699 1404.2L707.1 1402.1L714.6 1400.2L720.6 1398.7M752.7 1388.9L761.7 1386.9L769.9 1385.1L778.6 1383.2L787.5 1381.3L796.2 1379.5L804.3 1377.8L810.9 1376.4M846.4 1368.6L853.3 1367.4L861.7 1366L870.9 1364.5L880.3 1363L889.5 1361.6L898.1 1360.3L905.7 1359.1L907.5 1358.9M939.9 1355L949.4 1353.6L958.1 1352.3L967.5 1350.8L977 1349.3L986.2 1347.9L994.6 1346.6L1001.2 1345.6M1031.8 1341.5L1041.4 1340.5L1050.3 1339.7L1059.9 1338.7L1069.7 1337.8L1079.2 1336.8L1087.8 1336L1094.8 1335.3M1127 1331.4L1136.7 1330.9L1145.7 1330.3L1155.3 1329.8L1165.1 1329.4L1174.5 1329.1L1183.2 1329L1190 1329.2M1220.1 1339.8L1224.4 1345.4L1227.1 1351.8L1229.6 1359L1231.6 1366.2L1233.3 1374L1234.5 1381.2L1235.4 1389.1L1236.2 1397.1L1236.5 1402.3M1236.7 1435.7L1237.8 1499.7M1237.8 1531L1238.4 1578"/>
<circle cx="1257.8" cy="1543.2" r="5.8" fill="#f0f"/>
</g>
<g id="ticklabels" class="tk">
<text x="414.5" y="1751" text-anchor="middle">0</text>
<text x="697.5" y="1751" text-anchor="middle">20</text>
<text x="980.4" y="1751" text-anchor="middle">40</text>
<text x="1263.4" y="1751" text-anchor="middle">60</text>
<text x="1546.4" y="1751" text-anchor="middle">80</text>
<text x="1829.3" y="1751" text-anchor="middle">100</text>
<text x="2112.3" y="1751" text-anchor="middle">120</text>
<text x="352" y="1621.5" text-anchor="end">0</text>
<text x="352" y="1241.8" text-anchor="end">5</text>
<text x="352" y="862" text-anchor="end">10</text>
<text x="352" y="482.2" text-anchor="end">15</text>
<text x="352" y="102.5" text-anchor="end">20</text>
</g>
<text class="ax" x="1370" y="1945" text-anchor="middle">strain (%)</text>
<text class="ax" transform="translate(146 821) rotate(-90)" text-anchor="middle"><tspan letter-spacing="-0.5">stress </tspan>(M<tspan dx="-2.5">Pa)</tspan></text>
<g id="legend">
<text class="lt" x="484.5" y="138.3">PTT/GNS CFMs</text>
<path class="c lg k" d="M485.3 200H676.4"/>
<text class="ll" x="723.2" y="219.7">100/0</text>
<path class="c lg r" d="M485.3 274.7H676.4"/>
<text class="ll" x="723.2" y="294.4">99/1</text>
<path class="c lg b" d="M485.3 349.4H676.4"/>
<text class="ll" x="723.2" y="369.1">97/3</text>
<path class="c lg m" d="M485.3 424.2H676.4"/>
<text class="ll" x="723.2" y="443.9">95/5</text>
<path class="c lg k" d="M485.4 498.9H550.9M582.2 498.9H648.5"/>
<text class="ll" x="723.2" y="518.6">100/0@170</text>
<path class="c lg r" d="M485.4 573.6H550.9M582.2 573.6H648.5"/>
<text class="ll" x="723.2" y="593.3">99/1@170</text>
<path class="c lg b" d="M485.4 648.3H550.9M582.2 648.3H648.5"/>
<text class="ll" x="723.2" y="668">97/3@170</text>
<path class="c lg m" d="M485.4 723H550.9M582.2 723H648.5"/>
<text class="ll" x="723.2" y="742.7">95/5@170</text>
</g>
</svg>
</body></html>
